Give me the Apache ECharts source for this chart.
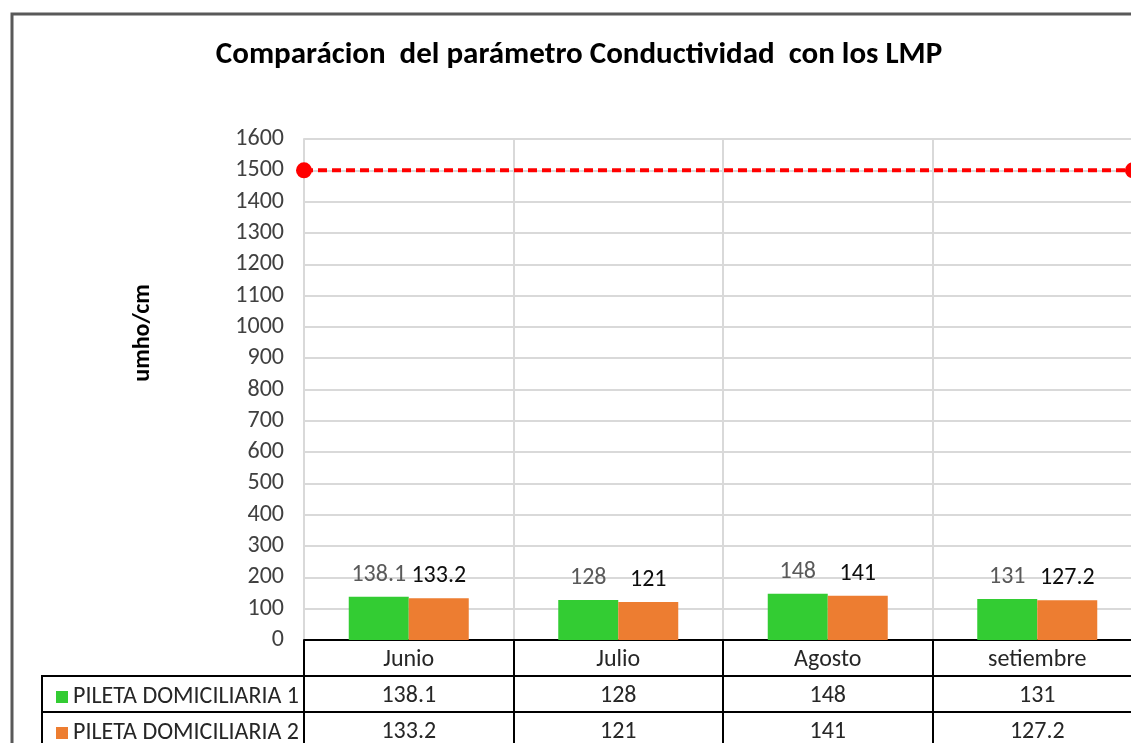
<!DOCTYPE html>
<html>
<head>
    <meta charset="utf-8">
    <title>Conductividad LMP</title>
    <script src="https://cdn.jsdelivr.net/npm/echarts@6/dist/echarts.min.js"></script>
    <style>
        html, body { margin: 0; padding: 0; background: #fff; }
        #main { width: 1131px; height: 743px; }
    </style>
</head>
<body>
    <div id="main"></div>
    <script type="text/javascript">
// datos
var meses = ['Junio', 'Julio', 'Agosto', 'setiembre'];
var pileta1 = [138.1, 128, 148, 131];
var pileta2 = [133.2, 121, 141, 127.2];
var nombres = ['PILETA DOMICILIARIA 1', 'PILETA DOMICILIARIA 2'];
var lmp = 1500;
var yTicks = { min: 0, max: 1600, step: 100 };

var fuente = "Carlito, 'Liberation Sans', Arial, sans-serif";
var negro = '#000';
var gris = '#d9d9d9';
var tam = 24;

var myChart = echarts.init(document.getElementById('main'));

// filas de la tabla de datos: cada una es un eje x mas abajo
function ejeTabla(datos, offset) {
    return {
        type: 'category',
        data: datos,
        position: 'bottom',
        offset: offset,
        gridIndex: 0,
        axisLine: { show: true, lineStyle: { color: negro, width: 2 } },
        axisTick: { show: true, length: 36, interval: 0, lineStyle: { color: negro, width: 2 } },
        axisLabel: { interval: 0, margin: 8, fontFamily: fuente, fontSize: tam, lineHeight: tam, color: '#262626' },
        splitLine: { show: false }
    };
}

var ejeMeses = ejeTabla(meses, 0);
ejeMeses.splitLine = { show: true, lineStyle: { color: gris, width: 2 } };

function leyenda(nombre, top) {
    return {
        data: [nombre],
        left: 51,
        top: top,
        itemWidth: 12,
        itemHeight: 12,
        icon: 'rect',
        selectedMode: false,
        textStyle: { fontFamily: fuente, fontSize: tam, lineHeight: tam, color: '#262626' }
    };
}

var option = {
    backgroundColor: '#fff',
    animation: false,
    title: {
        text: 'Comparácion  del parámetro Conductividad  con los LMP',
        left: 574,
        top: 35,
        textAlign: 'center',
        textStyle: { fontFamily: fuente, fontSize: 31, fontWeight: 'bold', color: negro }
    },
    legend: [leyenda(nombres[0], 680), leyenda(nombres[1], 716)],
    grid: { left: 304, top: 139, width: 838, height: 501, containLabel: false, outerBoundsMode: 'none' },
    xAxis: [
        ejeMeses,
        ejeTabla(pileta1.map(String), 36),
        ejeTabla(pileta2.map(String), 72),
        // eje oculto para la linea del LMP (sus extremos caen casi en los bordes)
        { type: 'value', min: 0, max: 1.011, show: false }
    ],
    yAxis: {
        type: 'value',
        min: yTicks.min,
        max: yTicks.max,
        interval: yTicks.step,
        axisLine: { show: true, lineStyle: { color: gris, width: 2 } },
        axisTick: { show: false },
        axisLabel: {
            margin: 20, fontFamily: fuente, fontSize: tam, color: '#404040',
            formatter: function (v) { return String(v); }
        },
        splitLine: { show: true, lineStyle: { color: gris, width: 2 } }
    },
    series: [
        {
            name: nombres[0],
            type: 'bar',
            xAxisIndex: 0,
            data: pileta1,
            barWidth: 60,
            barGap: '0%',
            itemStyle: { color: '#33cc33' },
            label: { show: true, position: 'top', distance: 10, fontFamily: fuente, fontSize: tam, color: '#595959' }
        },
        {
            name: nombres[1],
            type: 'bar',
            xAxisIndex: 0,
            data: pileta2,
            barWidth: 60,
            barGap: '0%',
            itemStyle: { color: '#ed7d31' },
            label: { show: true, position: 'top', distance: 10, fontFamily: fuente, fontSize: tam, color: '#0d0d0d' }
        },
        {
            name: 'LMP',
            type: 'line',
            xAxisIndex: 3,
            data: [[0, lmp], [1, lmp]],
            symbol: 'circle',
            symbolSize: 16,
            itemStyle: { color: '#ff0000' },
            lineStyle: { color: '#ff0000', width: 4, type: [9, 5] },
            z: 5
        }
    ],
    graphic: [
        {   // borde exterior del grafico
            type: 'rect',
            shape: { x: 12, y: 14, width: 1300, height: 900 },
            style: { fill: null, stroke: '#595959', lineWidth: 3 },
            silent: true
        },
        {   // celdas de la leyenda de la tabla
            type: 'rect',
            shape: { x: 42, y: 676, width: 262, height: 72 },
            style: { fill: null, stroke: negro, lineWidth: 2 },
            silent: true
        },
        {
            type: 'line',
            shape: { x1: 42, y1: 712, x2: 304, y2: 712 },
            style: { stroke: negro, lineWidth: 2 },
            silent: true
        },
        {
            type: 'text',
            x: 143,
            y: 333,
            rotation: Math.PI / 2,
            style: {
                text: 'umho/cm',
                fontFamily: fuente,
                fontSize: tam,
                fontWeight: 'bold',
                fill: negro,
                textAlign: 'center',
                textVerticalAlign: 'middle'
            }
        }
    ]
};

myChart.setOption(option);
    </script>
</body>
</html>
